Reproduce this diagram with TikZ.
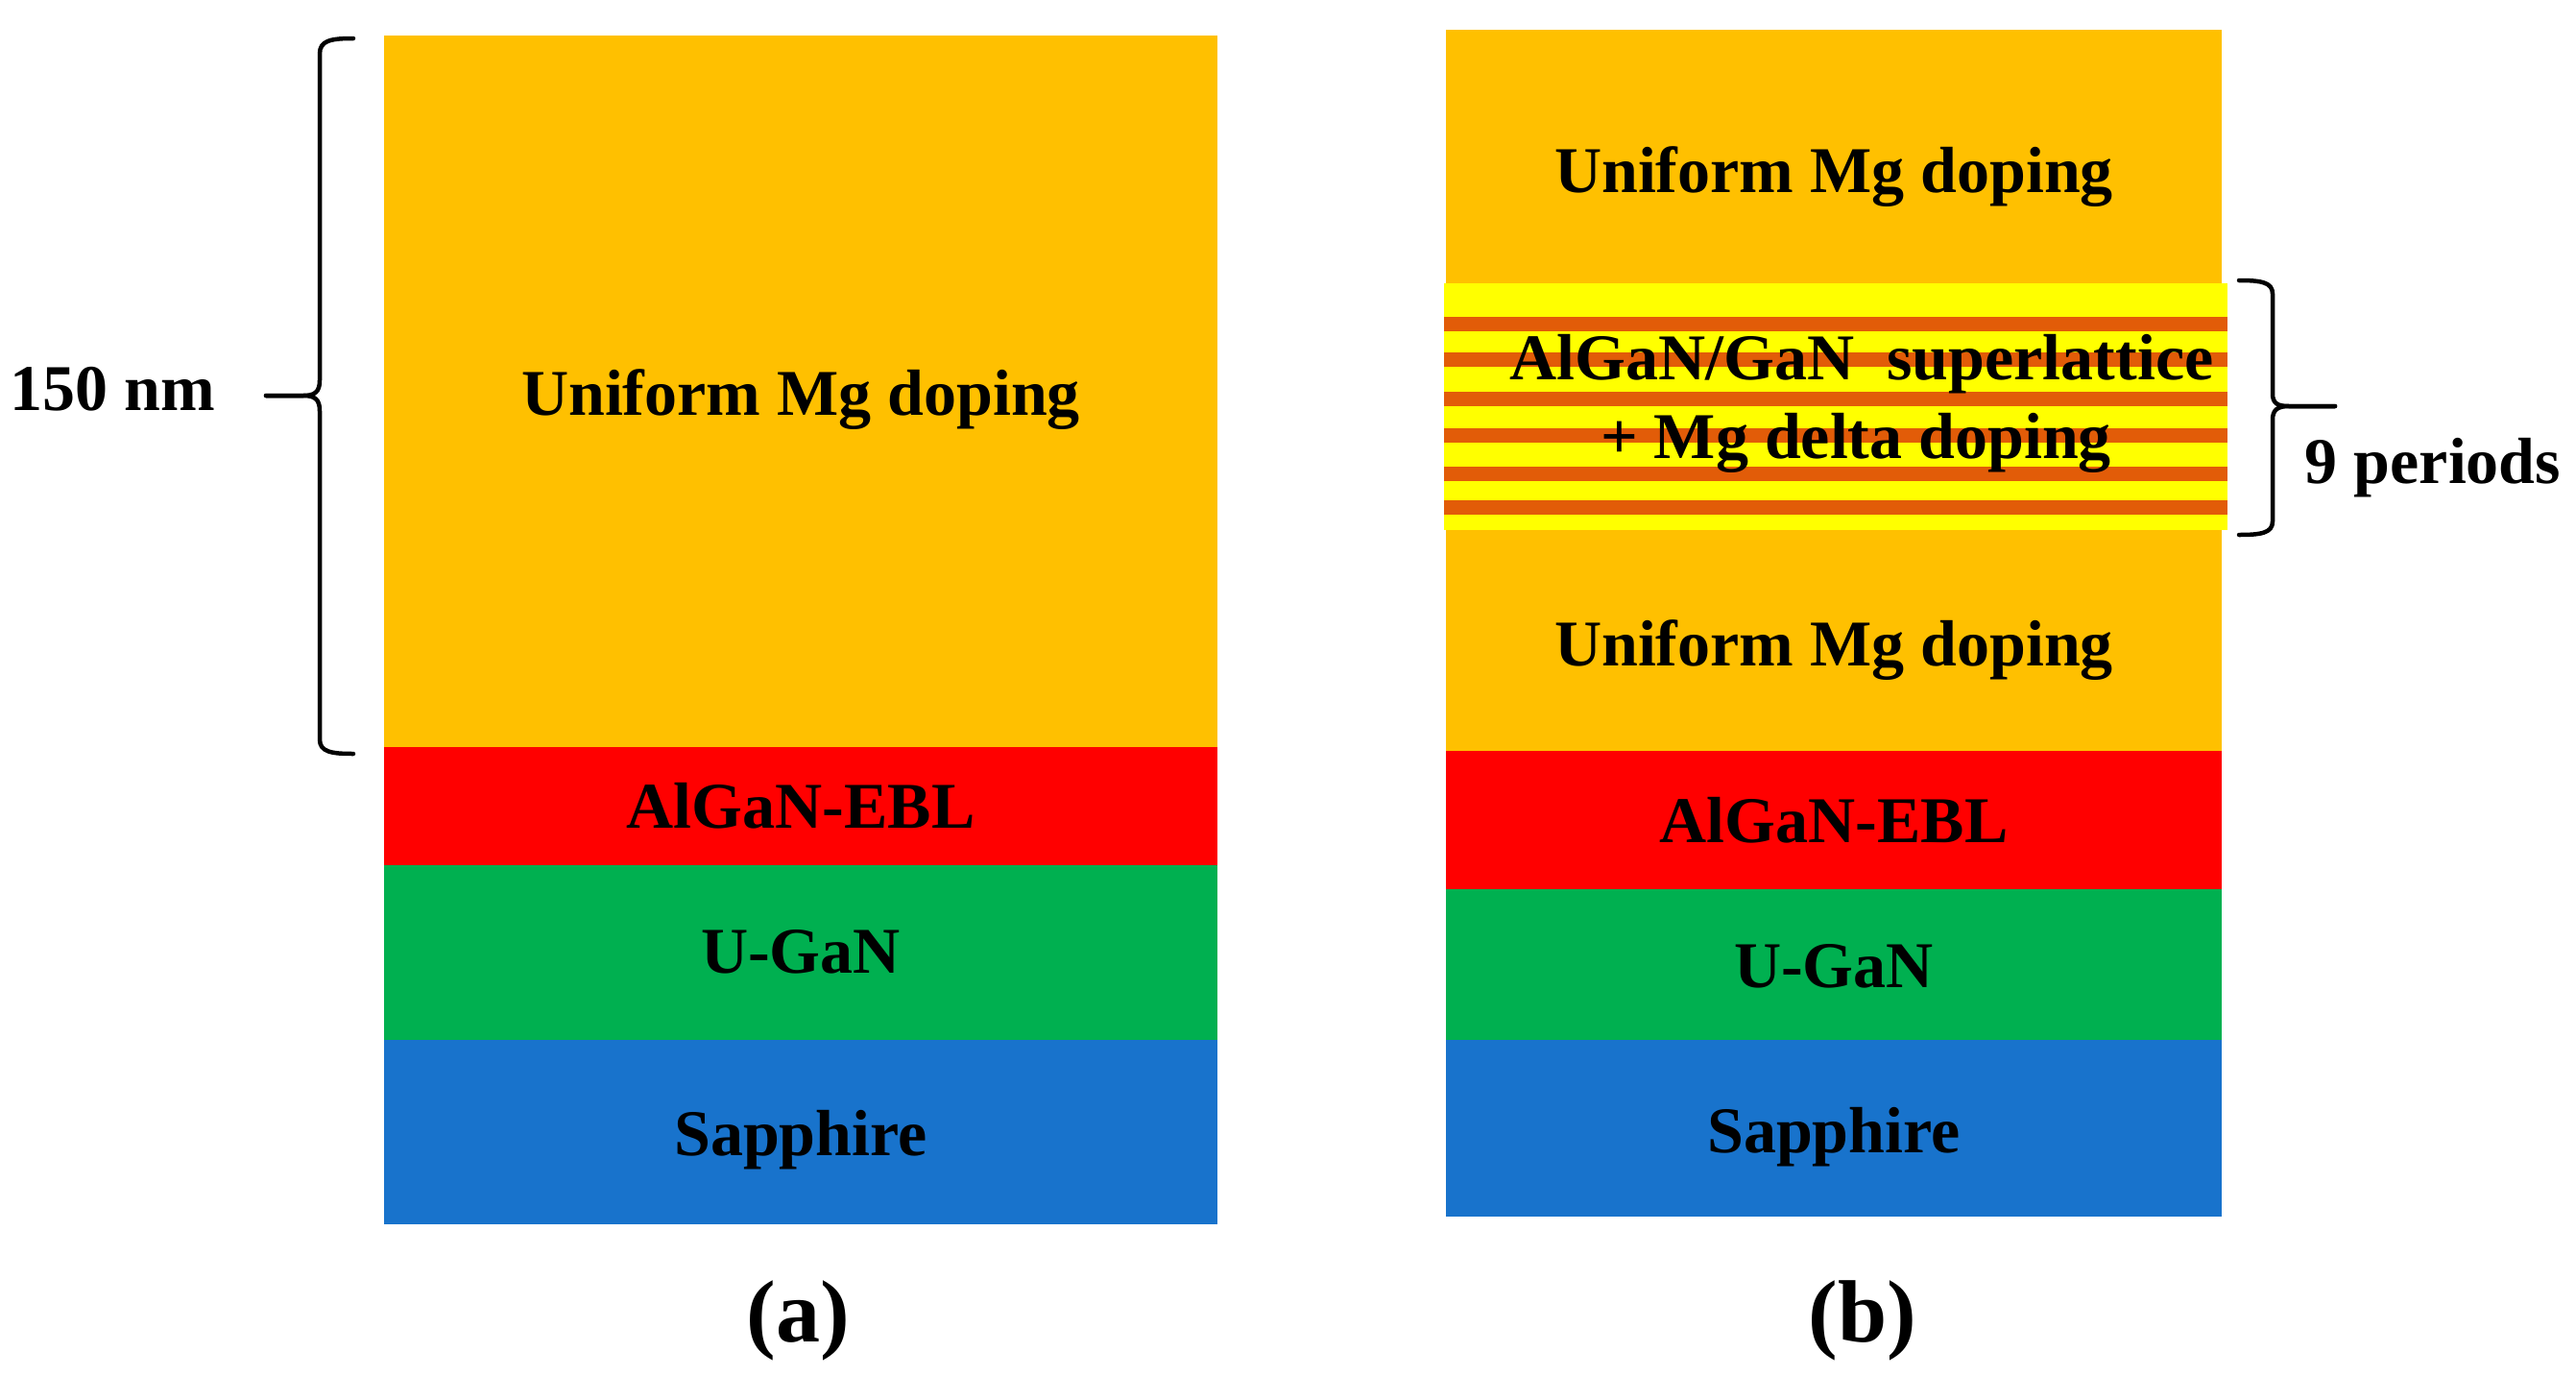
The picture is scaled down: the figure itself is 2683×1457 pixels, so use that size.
\documentclass[tikz,border=0pt]{standalone}
\usepackage{fontspec}
\setmainfont{Liberation Serif}
\definecolor{mgorange}{RGB}{255,192,0}
\definecolor{eblred}{RGB}{255,0,0}
\definecolor{gangreen}{RGB}{0,176,80}
\definecolor{sapblue}{RGB}{24,115,204}
\definecolor{slyellow}{RGB}{255,255,0}
\definecolor{slstripe}{RGB}{226,92,8}
\tikzset{
  lbl/.style={font=\fontsize{68}{80}\selectfont\bfseries, inner sep=0pt, anchor=base},
  caplbl/.style={font=\fontsize{92}{100}\selectfont\bfseries, inner sep=0pt, anchor=base},
  bracepath/.style={draw=black, line width=4.5pt, line cap=round, line join=round}
}
\begin{document}
\begin{tikzpicture}[x=1pt,y=-1pt]
\useasboundingbox (0,0) rectangle (2683,1457);
\fill[white] (0,0) rectangle (2683,1457);
% ---- stack (a)
\fill[mgorange] (400,37) rectangle (1268,778);
\fill[eblred] (400,778) rectangle (1268,901);
\fill[gangreen] (400,901) rectangle (1268,1083);
\fill[sapblue] (400,1083) rectangle (1268,1275);
% ---- stack (b)
\fill[mgorange] (1506,31) rectangle (2314,295);
\fill[slyellow] (1504,295) rectangle (2320,552);
\foreach \y in {330,367,408,446,486,521}
  \fill[slstripe] (1504,\y) rectangle (2320,\y+15);
\fill[mgorange] (1506,552) rectangle (2314,782);
\fill[eblred] (1506,782) rectangle (2314,926);
\fill[gangreen] (1506,926) rectangle (2314,1083);
\fill[sapblue] (1506,1083) rectangle (2314,1267);
% ---- labels (a)
\node[lbl] (ua) at (834,432) {Uniform Mg doping};
\node[lbl] (ea) at (834,862) {AlGaN-EBL};
\node[lbl] (ga) at (834,1013) {U-GaN};
\node[lbl] (sa) at (834,1203) {Sapphire};
% ---- labels (b)
\node[lbl] (ub1) at (1910,200) {Uniform Mg doping};
\node[lbl] (sl1) at (1939,395) {AlGaN/GaN\ \ superlattice};
\node[lbl] (sl2) at (1933,477) {+ Mg delta doping};
\node[lbl] (ub2) at (1910,693) {Uniform Mg doping};
\node[lbl] (eb) at (1910,877) {AlGaN-EBL};
\node[lbl] (gb) at (1910,1028) {U-GaN};
\node[lbl] (sb) at (1910,1200) {Sapphire};
% ---- braces
\path[bracepath] (368,40) .. controls (345,40) and (333,42) .. (333,56) -- (333,396)
  .. controls (333,408) and (328,412) .. (316,412) -- (277,412);
\path[bracepath] (277,412) -- (316,412) .. controls (328,412) and (333,416) .. (333,428)
  -- (333,770) .. controls (333,783) and (345,785) .. (368,785);
\node[lbl] (nm) at (117,427) {150 nm};
\path[bracepath] (2332,292) .. controls (2355,292) and (2367,294) .. (2367,306) -- (2367,410)
  .. controls (2367,420) and (2372,423) .. (2384,423) -- (2432,423);
\path[bracepath] (2432,423) -- (2384,423) .. controls (2372,423) and (2367,427) .. (2367,437)
  -- (2367,543) .. controls (2367,555) and (2355,557) .. (2332,557);
\node[lbl] (per) at (2534,503) {9 periods};
% ---- captions
\node[caplbl] (capa) at (831,1397) {(a)};
\node[caplbl] (capb) at (1940,1397) {(b)};
\end{tikzpicture}
\end{document}
